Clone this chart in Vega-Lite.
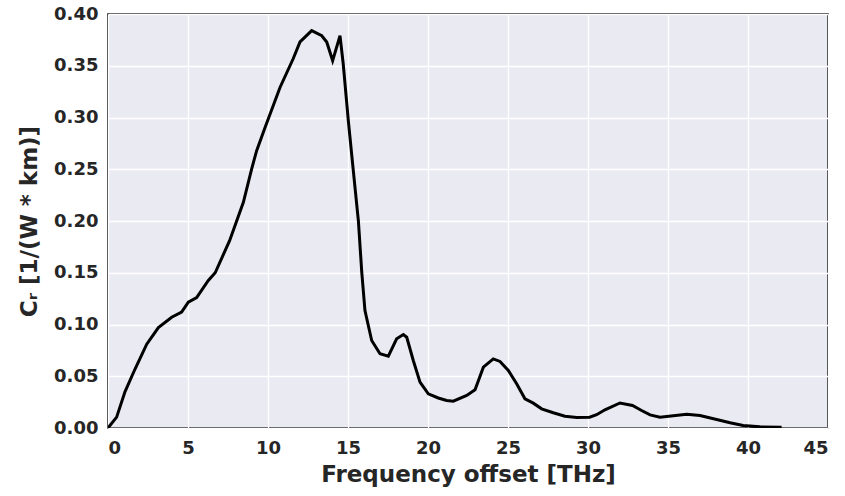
{
  "$schema": "https://vega.github.io/schema/vega-lite/v6.json",
  "width": 720,
  "height": 414,
  "autosize": {"type": "none"},
  "padding": {"left": 108, "top": 14, "right": 17, "bottom": 68},
  "background": "white",
  "view": {"fill": "#eaeaf2", "stroke": "#000000", "strokeWidth": 1.5},
  "config": {
    "view": {"fill": "#eaeaf2", "stroke": "#000000", "strokeWidth": 1.5},
    "font": "DejaVu Sans",
    "axis": {
      "gridColor": "#ffffff",
      "gridWidth": 1.3,
      "gridOpacity": 1,
      "domain": false,
      "ticks": false,
      "labelFont": "DejaVu Sans",
      "labelFontWeight": "bold",
      "labelFontSize": 18,
      "labelColor": "#262626",
      "titleFont": "DejaVu Sans",
      "titleFontWeight": "bold",
      "titleFontSize": 23,
      "titleColor": "#262626"
    }
  },
  "data": {
    "values": [
      {"f": 0.0, "c": 0.0},
      {"f": 0.54, "c": 0.0105},
      {"f": 1.06, "c": 0.035},
      {"f": 1.69, "c": 0.057},
      {"f": 2.42, "c": 0.081},
      {"f": 3.15, "c": 0.097},
      {"f": 3.98, "c": 0.107},
      {"f": 4.6, "c": 0.112},
      {"f": 5.02, "c": 0.1216},
      {"f": 5.54, "c": 0.126},
      {"f": 6.27, "c": 0.1425},
      {"f": 6.7, "c": 0.15},
      {"f": 7.6, "c": 0.181},
      {"f": 8.46, "c": 0.218},
      {"f": 8.98, "c": 0.2504},
      {"f": 9.29, "c": 0.268},
      {"f": 9.81, "c": 0.29},
      {"f": 10.75, "c": 0.329},
      {"f": 11.58, "c": 0.357},
      {"f": 12.0, "c": 0.373},
      {"f": 12.73, "c": 0.384},
      {"f": 13.36, "c": 0.379},
      {"f": 13.67, "c": 0.373},
      {"f": 14.04, "c": 0.355},
      {"f": 14.5, "c": 0.379},
      {"f": 14.7, "c": 0.352},
      {"f": 15.02, "c": 0.297},
      {"f": 15.33, "c": 0.249},
      {"f": 15.65, "c": 0.2},
      {"f": 15.86, "c": 0.1506},
      {"f": 16.06, "c": 0.1135},
      {"f": 16.48, "c": 0.0845},
      {"f": 17.0, "c": 0.0717},
      {"f": 17.52, "c": 0.0694},
      {"f": 18.04, "c": 0.0862},
      {"f": 18.46, "c": 0.0903},
      {"f": 18.67, "c": 0.0877},
      {"f": 19.08, "c": 0.0652},
      {"f": 19.5, "c": 0.0443},
      {"f": 20.02, "c": 0.033},
      {"f": 20.64, "c": 0.029},
      {"f": 21.17, "c": 0.0266},
      {"f": 21.58, "c": 0.0259},
      {"f": 22.42, "c": 0.0314},
      {"f": 22.94, "c": 0.0369},
      {"f": 23.46, "c": 0.0588},
      {"f": 24.08, "c": 0.0668},
      {"f": 24.5, "c": 0.0643},
      {"f": 25.02, "c": 0.0556},
      {"f": 25.54, "c": 0.0427},
      {"f": 26.06, "c": 0.0282},
      {"f": 26.58, "c": 0.024},
      {"f": 27.1, "c": 0.0185},
      {"f": 27.83, "c": 0.0147},
      {"f": 28.56, "c": 0.0114},
      {"f": 29.3, "c": 0.0101},
      {"f": 30.1, "c": 0.0104},
      {"f": 30.54, "c": 0.0128},
      {"f": 31.06, "c": 0.0176},
      {"f": 32.0, "c": 0.0242},
      {"f": 32.78, "c": 0.0217},
      {"f": 33.35, "c": 0.0169},
      {"f": 33.88, "c": 0.0127},
      {"f": 34.5, "c": 0.0104},
      {"f": 35.33, "c": 0.0118},
      {"f": 36.17, "c": 0.0133},
      {"f": 37.0, "c": 0.0121},
      {"f": 38.04, "c": 0.0082},
      {"f": 38.88, "c": 0.005},
      {"f": 39.7, "c": 0.0024},
      {"f": 40.75, "c": 0.0011},
      {"f": 42.1, "c": 0.0008}
    ]
  },
  "mark": {"type": "line", "color": "#000000", "strokeWidth": 3, "clip": true},
  "encoding": {
    "x": {
      "field": "f",
      "type": "quantitative",
      "scale": {"domain": [0, 45], "nice": false, "zero": false},
      "axis": {
        "title": "Frequency offset [THz]",
        "values": [0, 5, 10, 15, 20, 25, 30, 35, 40, 45],
        "format": "d",
        "labelPadding": 11,
        "titlePadding": 6
      }
    },
    "y": {
      "field": "c",
      "type": "quantitative",
      "scale": {"domain": [0, 0.4], "nice": false},
      "axis": {
        "title": "Cᵣ [1/(W * km)]",
        "values": [0, 0.05, 0.1, 0.15, 0.2, 0.25, 0.3, 0.35, 0.4],
        "format": ".2f",
        "labelPadding": 10,
        "titlePadding": 12
      }
    }
  }
}
